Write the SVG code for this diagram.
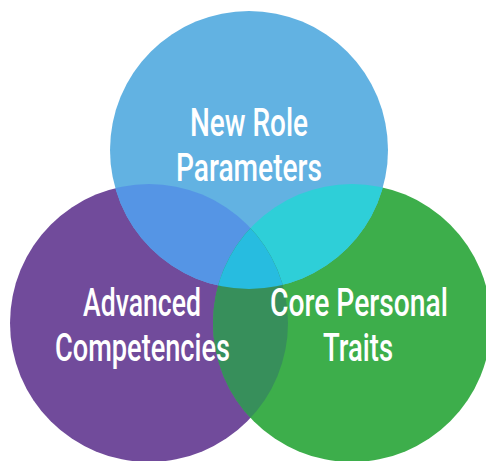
<svg xmlns="http://www.w3.org/2000/svg" width="486" height="461" viewBox="0 0 486 461">
  <style>
    .label { font-family: Roboto, "Liberation Sans", sans-serif; font-weight: 500; font-size: 38px; fill: #ffffff; text-anchor: middle; }
  </style>
  <defs>
    <clipPath id="clip-top"><circle cx="249" cy="150" r="139"/></clipPath>
    <clipPath id="clip-left"><circle cx="149" cy="323" r="139"/></clipPath>
    <clipPath id="clip-right"><circle cx="352" cy="323" r="139"/></clipPath>
  </defs>
  <rect width="486" height="461" fill="#ffffff"/>

  <!-- base circles -->
  <g id="node-advanced">
    <circle cx="149" cy="323" r="139" fill="#714B9B"/>
  </g>
  <g id="node-core">
    <circle cx="352" cy="323" r="139" fill="#3DAE4B"/>
  </g>
  <g id="node-role">
    <circle cx="249" cy="150" r="139" fill="#62B2E2"/>
  </g>

  <!-- overlap regions -->
  <g id="overlaps">
    <g clip-path="url(#clip-top)">
      <circle cx="149" cy="323" r="139" fill="#5595E5"/>
      <circle cx="352" cy="323" r="139" fill="#2ECFD8"/>
    </g>
    <g clip-path="url(#clip-left)">
      <circle cx="352" cy="323" r="139" fill="#378F5B"/>
      <g clip-path="url(#clip-top)">
        <circle cx="352" cy="323" r="139" fill="#27BCE0"/>
      </g>
    </g>
  </g>

  <!-- labels -->
  <g id="labels">
    <text class="label" x="249" y="136" textLength="118" lengthAdjust="spacingAndGlyphs">New Role</text>
    <text class="label" x="249" y="181" textLength="146" lengthAdjust="spacingAndGlyphs">Parameters</text>
    <text class="label" x="142" y="316" textLength="118" lengthAdjust="spacingAndGlyphs">Advanced</text>
    <text class="label" x="142.5" y="361" textLength="175" lengthAdjust="spacingAndGlyphs">Competencies</text>
    <text class="label" x="359" y="316" textLength="178" lengthAdjust="spacingAndGlyphs">Core Personal</text>
    <text class="label" x="358" y="361" textLength="70" lengthAdjust="spacingAndGlyphs">Traits</text>
  </g>
</svg>
